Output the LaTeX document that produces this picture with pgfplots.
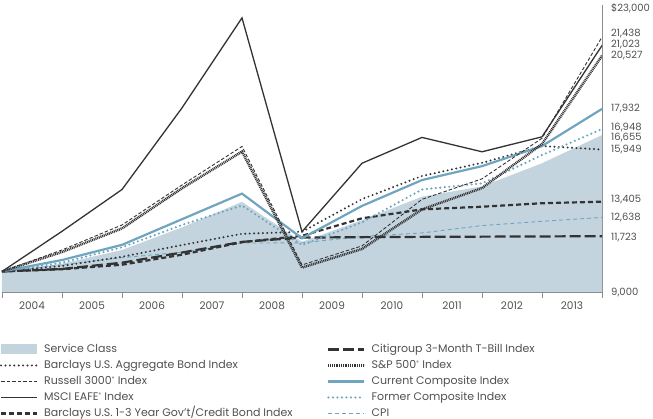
\documentclass[border=0pt]{standalone}
\usepackage{fontspec}
\setmainfont{Poppins}
\usepackage{pgfplots}
\pgfplotsset{compat=1.18}
\definecolor{areablue}{HTML}{C3D4DF}
\definecolor{lineblue}{HTML}{6FA5BF}
\definecolor{dk}{HTML}{333333}
\definecolor{txt}{HTML}{505050}
\definecolor{axisgray}{HTML}{8C8C8C}
\tikzset{
  sAgg/.style={dk, line width=2.2pt, line cap=round, dash pattern=on 0pt off 4.4pt},
  sRus/.style={dk, line width=0.9pt, dash pattern=on 3.5pt off 2pt},
  sEAFE/.style={dk, line width=1.3pt},
  sOneThree/.style={dk, line width=2.2pt, dash pattern=on 5pt off 3pt},
  sTBill/.style={dk, line width=2.2pt, dash pattern=on 11pt off 4pt},
  sSP/.style={dk, line width=2.5pt, dash pattern=on 1pt off 0.8pt},
  sCur/.style={lineblue, line width=2.2pt},
  sFor/.style={lineblue, line width=2.4pt, line cap=round, dash pattern=on 0pt off 4.5pt},
  sCPI/.style={lineblue, line width=0.9pt, dash pattern=on 4pt off 3pt},
}
\pgfplotsset{
  myline legend/.style={legend image code/.code={\draw[##1] (0pt,0pt) -- (36pt,0pt);}},
  myarea legend/.style={legend image code/.code={\fill[##1] (0pt,-5pt) rectangle (36pt,5.5pt);}},
}
\begin{document}
\begin{tikzpicture}
\begin{axis}[
  scale only axis, width=600pt, height=287pt,
  xmin=0, xmax=10, ymin=9000, ymax=23000,
  scaled y ticks=false, scaled x ticks=false,
  axis x line=bottom, axis y line=right,
  axis line style={axisgray, line width=0.8pt, -},
  every outer x axis line/.append style={-},
  every outer y axis line/.append style={-},
  xtick={0,1,2,3,4,5,6,7,8,9,10},
  xticklabels={2004,2005,2006,2007,2008,2009,2010,2011,2012,2013},
  x tick label as interval,
  tick align=outside, major tick length=6pt,
  x tick style={axisgray, line width=0.8pt},
  xticklabel style={font=\fontsize{10.5}{12}\selectfont, text=txt, text depth=0pt},
  ytick={9000,11683,12659,13537,15976,16561,17049,17976,20561,21098,21634,22860},
  yticklabels={{9,000},{11,723},{12,638},{13,405},{15,949},{16,655},{16,948},{17,932},{20,527},{21,023},{21,438},{\$23,000}},
  y tick style={draw=none},
  yticklabel style={font=\fontsize{10}{12}\selectfont, text=txt, anchor=west, text depth=0pt, inner sep=0pt, xshift=3pt},
  legend columns=2,
  legend cell align=left,
  myline legend,
  legend style={at={(axis description cs:0,0)}, anchor=north west, xshift=-2pt, yshift=-52pt,
    draw=none, fill=none, inner sep=0pt, outer sep=0pt, column sep=6pt, row sep=5.5pt,
    font=\fontsize{11}{13}\selectfont, text=txt,
    nodes={inner sep=0pt, text height=8pt, text depth=2.5pt}},
]
% Service Class area
\addplot[fill=areablue, draw=none, forget plot] coordinates {
 (0,10000) (1,10380) (2,11050) (3,12150) (4,13400) (5,11450) (6,12500) (7,13650) (8,14150) (9,15280) (10,16655)} \closedcycle;
% CPI
\addplot[sCPI, forget plot] coordinates {
 (0,10000) (1,10326) (2,10675) (3,10941) (4,11388) (5,11397) (6,11706) (7,11881) (8,12240) (9,12449) (10,12638)};
% Citigroup 3-Month T-Bill
\addplot[sTBill, forget plot] coordinates {
 (0,10000) (1,10125) (2,10430) (3,10925) (4,11445) (5,11655) (6,11675) (7,11690) (8,11700) (9,11710) (10,11723)};
% Barclays 1-3 Year
\addplot[sOneThree, forget plot] coordinates {
 (0,10000) (1,10110) (2,10330) (3,10820) (4,11430) (5,11740) (6,12595) (7,13030) (8,13160) (9,13330) (10,13405)};
% Barclays Aggregate
\addplot[sAgg, forget plot] coordinates {
 (0,10000) (1,10270) (2,10720) (3,11290) (4,11840) (5,11940) (6,13530) (7,14660) (8,15300) (9,16120) (10,15949)};
% Former Composite
\addplot[sFor, forget plot] coordinates {
 (0,10000) (1,10430) (2,11180) (3,12270) (4,13220) (5,11290) (6,12400) (7,14000) (8,14300) (9,15680) (10,16948)};
% Current Composite
\addplot[sCur, forget plot] coordinates {
 (0,10000) (1,10560) (2,11300) (3,12550) (4,13800) (5,11620) (6,13200) (7,14460) (8,15140) (9,16120) (10,17932)};
% S&P 500
\addplot[sSP, forget plot] coordinates {
 (0,10000) (1,10950) (2,12100) (3,14060) (4,15850) (5,10190) (6,11100) (7,13030) (8,14070) (9,16220) (10,20527)};
% Russell 3000
\addplot[sRus, forget plot] coordinates {
 (0,10000) (1,11050) (2,12270) (3,14220) (4,16100) (5,10320) (6,11250) (7,13520) (8,14520) (9,16500) (10,21438)};
% MSCI EAFE
\addplot[sEAFE, forget plot] coordinates {
 (0,10000) (1,11960) (2,14000) (3,17980) (4,22370) (5,11940) (6,15280) (7,16540) (8,15840) (9,16570) (10,21023)};

% legend (row-wise order for two columns)
\addlegendimage{fill=areablue, draw=none, myarea legend}
\addlegendentry{\makebox[277pt][l]{Service Class}}
\addlegendimage{sTBill}
\addlegendentry{Citigroup 3-Month T-Bill Index}
\addlegendimage{sAgg}
\addlegendentry{\makebox[277pt][l]{Barclays U.S. Aggregate Bond Index}}
\addlegendimage{sSP}
\addlegendentry{S\&P 500\textsuperscript{\tiny\textregistered} Index}
\addlegendimage{sRus}
\addlegendentry{\makebox[277pt][l]{Russell 3000\textsuperscript{\tiny\textregistered} Index}}
\addlegendimage{sCur}
\addlegendentry{Current Composite Index}
\addlegendimage{sEAFE}
\addlegendentry{\makebox[277pt][l]{MSCI EAFE\textsuperscript{\tiny\textregistered} Index}}
\addlegendimage{sFor}
\addlegendentry{Former Composite Index}
\addlegendimage{sOneThree}
\addlegendentry{\makebox[277pt][l]{Barclays U.S. 1-3 Year Gov't/Credit Bond Index}}
\addlegendimage{sCPI}
\addlegendentry{CPI}
\end{axis}
\pgfresetboundingbox
\path[use as bounding box] (-2pt,-127pt) rectangle (651pt,292pt);
\end{tikzpicture}
\end{document}
